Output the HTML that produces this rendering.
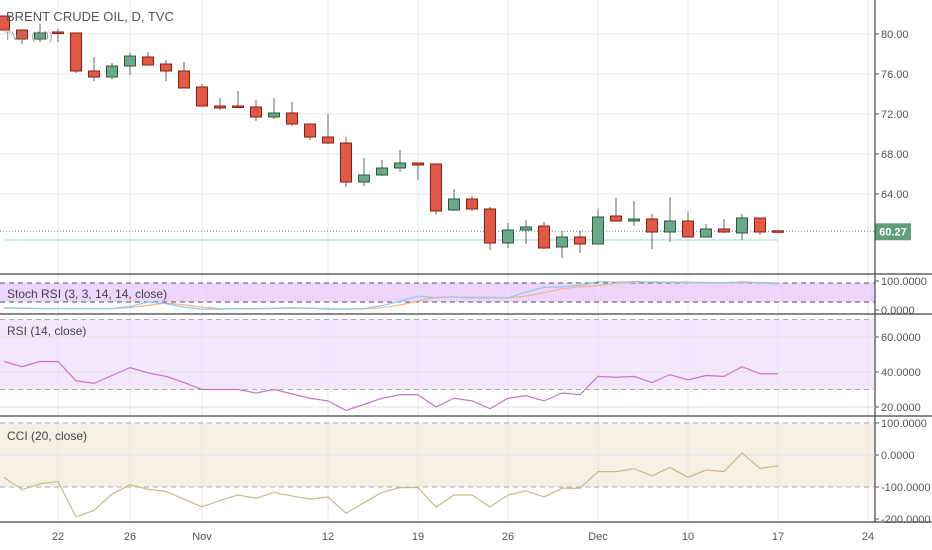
<!DOCTYPE html>
<html><head><meta charset="utf-8"><style>
html,body{margin:0;padding:0;background:#fff;width:932px;height:550px;overflow:hidden}
svg{display:block;font-family:"Liberation Sans",sans-serif}
</style></head><body>
<svg id="c" width="932" height="550"></svg>
<script>
const dates=["17","18","19","22","23","24","25","26","29","30","31","Nov1","2","5","6","7","8","9","12","13","14","15","16","19","20","21","22","23","26","27","28","29","30","Dec3","4","5","6","7","10","11","12","13","14","17"];
const opens=[81.8,80.4,79.5,80.2,80.1,76.3,75.7,76.8,77.7,77.0,76.3,74.7,72.8,72.8,72.7,71.7,72.1,71.0,69.7,69.1,65.2,65.9,66.6,67.1,67.0,62.4,63.5,62.5,59.1,60.4,60.8,58.7,59.7,59.0,61.8,61.3,61.5,60.2,61.3,59.7,60.5,60.1,61.6,60.32];
const closes=[80.4,79.5,80.1,80.1,76.3,75.7,76.8,77.8,76.9,76.3,74.6,72.8,72.6,72.7,71.7,72.1,71.0,69.7,69.1,65.2,65.9,66.6,67.1,66.9,62.3,63.5,62.5,59.1,60.4,60.7,58.6,59.7,59.0,61.7,61.3,61.5,60.2,61.3,59.7,60.5,60.2,61.6,60.2,60.27];
const highs=[81.8,80.4,81.0,80.5,80.1,77.7,77.1,78.1,78.2,77.4,77.2,75.0,73.6,74.3,73.4,73.6,73.2,71.0,72.0,69.7,67.6,67.4,68.4,67.1,67.0,64.5,63.8,62.7,61.1,61.4,61.2,60.3,60.3,62.5,63.6,63.3,62.0,63.7,62.3,61.0,61.5,62.0,61.6,60.35];
const lows=[80.4,79.0,79.2,79.2,76.1,75.3,75.5,75.9,76.9,75.3,74.6,72.8,72.4,72.6,71.3,71.5,70.8,69.4,69.0,64.7,64.8,65.8,66.2,65.4,61.9,62.3,62.3,58.4,58.6,59.0,58.5,57.6,58.1,59.0,61.3,60.8,58.5,59.2,59.7,59.7,60.1,59.4,59.9,60.2];
const rsi=[46,43,46,46,35,33.5,38,42.5,39.5,37.5,34,30,30,30,28,30,27.5,25,23.5,18,21.5,25,27,27,20,25,23.5,19,25,26.5,23.5,28,27,37.5,37,37.5,34,38.5,35.5,38,37.5,43,39,39];
const cci=[-70,-108,-90,-83,-193,-173,-122,-93,-107,-114,-138,-162,-142,-125,-135,-117,-128,-138,-131,-182,-149,-117,-102,-102,-163,-125,-125,-162,-125,-112,-131,-104,-104,-52,-52,-43,-65,-39,-70,-47,-52,6,-42,-34];
const stochK=[8,6,5,5,5,5,5,12,28,22,10,3,3,5,5,6,8,6,3,3,5,15,30,48,42,45,42,42,42,62,78,80,85,98,96,98,96,95,94,93,94,97,94,90];
const stochD=[7,6,5,5,5,5,5,8,16,24,18,10,5,4,4,5,6,6,5,4,4,8,17,31,44,45,43,43,42,48,60,73,80,84,92,95,97,96,96,95,94,94,95,93];
const priceTicks=[80,76,72,68,64];
const rsiTicks=[60,40,20];
const cciTicks=[100,0,-100,-200];
const xLabels=["22","26","Nov","12","19","26","Dec","10","17","24"];
const xLabelIdx=[3,7,11,18,23,28,33,38,43,48];
const lastPrice=60.27;

const NS="http://www.w3.org/2000/svg";
const svg=document.getElementById('c');
function el(t,a,p){const e=document.createElementNS(NS,t);for(const k in a)e.setAttribute(k,a[k]);(p||svg).appendChild(e);return e;}
const X=i=>4+i*18;
const PY=p=>34+(80-p)*10;
const RY=v=>372-(v-40)*1.75;
const CY=v=>455-v*0.32;
const SY=v=>302-(v-20)*(19/60);
const W=875;

// panel fills
let e;
e=el('rect',{x:0,y:283,width:W,height:19,fill:'#ecd4fb'});


e=el('rect',{x:0,y:RY(70),width:W,height:RY(30)-RY(70),fill:'#f3e6fd'});


e=el('rect',{x:0,y:CY(100),width:W,height:CY(-100)-CY(100),fill:'#f6efe4'});



// vertical grid
xLabelIdx.forEach((i,k)=>{
 const g=el('line',{x1:X(i),x2:X(i),y1:0,y2:522,stroke:'#e6e6ea','stroke-width':1});
 
 
 const t=el('text',{x:X(i),y:540,'text-anchor':'middle','font-size':11,fill:'#555'});
 t.textContent=xLabels[k];
 
 
});
// price grid + labels
priceTicks.forEach(p=>{
 const g=el('line',{x1:0,x2:W,y1:PY(p),y2:PY(p),stroke:'#e6e6e6'});
 
 
 el('line',{x1:W,x2:W+4,y1:PY(p),y2:PY(p),stroke:'#555'});
 const t=el('text',{x:881,y:PY(p)+4,'font-size':11,fill:'#555'});
 t.textContent=p.toFixed(2);
 
 
});
// light blue and dotted last-price lines
el('line',{x1:5,x2:X(43),y1:240,y2:240,stroke:'#bfe3f0','stroke-width':1.5});
e=el('line',{x1:0,x2:W,y1:PY(lastPrice),y2:PY(lastPrice),stroke:'#5a8a78','stroke-dasharray':'1,2'});



// candles
for(let i=0;i<dates.length;i++){
 const up=closes[i]>=opens[i];
 const g=el('g',{});
 
 
 el('line',{x1:X(i),x2:X(i),y1:PY(highs[i]),y2:PY(lows[i]),stroke:'#666','stroke-width':1},g);
 const top=PY(Math.max(opens[i],closes[i])),bot=PY(Math.min(opens[i],closes[i]));
 el('rect',{x:X(i)-5.5,y:top,width:11,height:Math.max(1.5,bot-top),fill:up?'#6aa88a':'#e05a45',stroke:up?'#2b5a40':'#8a1e12','stroke-width':1},g);
}

// price label box
e=el('rect',{x:875,y:PY(lastPrice)-8,width:36,height:17,fill:'#5e9f7c'});


e=el('text',{x:893,y:PY(lastPrice)+4,'text-anchor':'middle','font-size':11,'font-weight':'bold',fill:'#fff'});
e.textContent=lastPrice.toFixed(2);

// titles
e=el('text',{x:6,y:21,'font-size':13,fill:'#555'});
e.textContent='BRENT CRUDE OIL, D, TVC';


e=el('text',{x:4,y:40,'font-size':12,fill:'#888','opacity':0.8});
e.textContent='TVC (20)';



// panel separators
[274,314,416,522].forEach(y=>{el('line',{x1:0,x2:932,y1:y,y2:y,stroke:'#444','stroke-width':1.2});});
el('line',{x1:W,x2:W,y1:0,y2:522,stroke:'#444','stroke-width':1.2});

// stoch
[283,302].forEach(y=>el('line',{x1:0,x2:W,y1:y,y2:y,stroke:'#555','stroke-dasharray':'5,4'}));
function poly(arr,f,color,name){
 const p=el('polyline',{points:arr.map((v,i)=>X(i)+','+f(v)).join(' '),fill:'none',stroke:color,'stroke-width':1.2});
 
 
}
poly(stochD,v=>310-v*0.29,'#f0b48a','stoch-d-line');
poly(stochK,v=>310-v*0.29,'#8ec8ef','stoch-k-line');
e=el('text',{x:7,y:298,'font-size':12,fill:'#444'});e.textContent='Stoch RSI (3, 3, 14, 14, close)';

[[100,281],[0,310]].forEach(([v,y])=>{el('line',{x1:W,x2:W+4,y1:y,y2:y,stroke:'#555'});const t=el('text',{x:881,y:y+4,'font-size':11,fill:'#555'});t.textContent=v.toFixed(4);});

// rsi
[70,30].forEach(v=>el('line',{x1:0,x2:W,y1:RY(v),y2:RY(v),stroke:'#aaa','stroke-dasharray':'5,4'}));
rsiTicks.forEach(v=>{el('line',{x1:0,x2:W,y1:RY(v),y2:RY(v),stroke:'#e2e2e2'});el('line',{x1:W,x2:W+4,y1:RY(v),y2:RY(v),stroke:'#555'});const t=el('text',{x:881,y:RY(v)+4,'font-size':11,fill:'#555'});t.textContent=v.toFixed(4);
 });
poly(rsi,RY,'#c477c8','rsi-line');
e=el('text',{x:7,y:335,'font-size':12,fill:'#444'});e.textContent='RSI (14, close)';


// cci
[100,-100].forEach(v=>el('line',{x1:0,x2:W,y1:CY(v),y2:CY(v),stroke:'#aaa','stroke-dasharray':'5,4'}));
el('line',{x1:0,x2:W,y1:CY(0),y2:CY(0),stroke:'#e2e2e2'});
cciTicks.forEach(v=>{el('line',{x1:W,x2:W+4,y1:CY(v),y2:CY(v),stroke:'#555'});const t=el('text',{x:881,y:CY(v)+4,'font-size':11,fill:'#555'});t.textContent=v.toFixed(4);
 });
poly(cci,CY,'#c9b98a','cci-line');
e=el('text',{x:7,y:440,'font-size':12,fill:'#444'});e.textContent='CCI (20, close)';

</script>
</body></html>
